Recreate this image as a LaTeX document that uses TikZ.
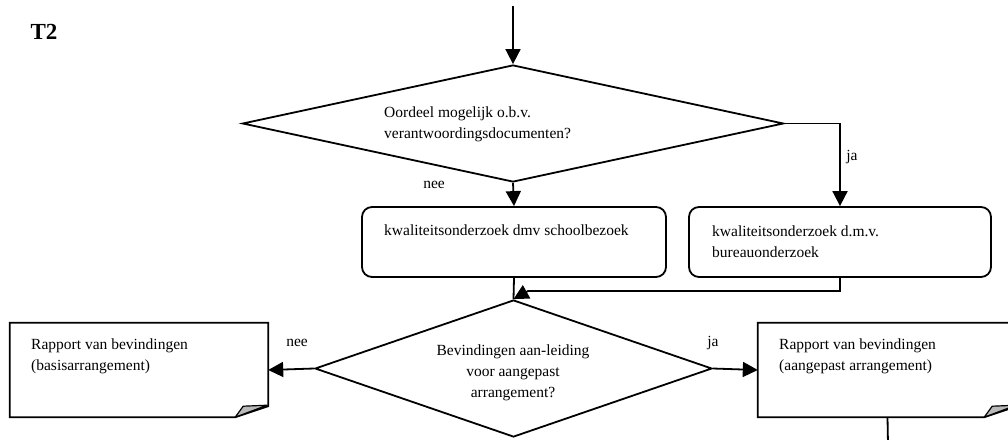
\documentclass[tikz,border=0pt]{standalone}
\usepackage{fontspec}
\setmainfont{Liberation Serif}
\usetikzlibrary{shapes.geometric,arrows.meta}
\begin{document}
\begin{tikzpicture}[x=1pt,y=-1pt,
  line/.style={line width=1.8pt, line join=miter},
  arr/.style={line, -{Triangle[width=15pt,length=15pt]}},
  dec/.style={diamond, draw, line width=1.8pt, inner sep=0pt},
  rbox/.style={draw, line width=1.8pt, rounded corners=10pt, inner sep=0pt},
  docbox/.style={inner sep=0pt},
  fold/.style={fill=gray!55, draw=black, line width=1.2pt, line join=round},
  txt/.style={inner sep=0pt, align=left, font=\fontsize{15.5}{21}\selectfont},
  lbl/.style={inner sep=0pt, font=\fontsize{15.5}{21}\selectfont}]
\clip (0,0) rectangle (1008,439);
\fill[white] (0,0) rectangle (1008,439);

\node[inner sep=0pt, font=\bfseries\fontsize{23}{26}\selectfont] (title) at (44,32) {T2};

% decisions
\node[dec, minimum width=541pt, minimum height=117pt] (d1) at (513,123.5) {};
\node[dec, minimum width=397pt, minimum height=137pt] (d2) at (513.5,368.5) {};

% process boxes
\node[rbox, minimum width=304pt, minimum height=70pt] (b1) at (514,242) {};
\node[rbox, minimum width=302pt, minimum height=70pt] (b2) at (840,242) {};

% documents
\node[docbox, minimum width=258pt, minimum height=94pt] (doc1) at (139,370) {};
\node[docbox, minimum width=259pt, minimum height=94pt] (doc2) at (887.5,370) {};
\foreach \d in {doc1,doc2}{
  \draw[line] (\d.north west) -- (\d.north east) -- ([yshift=11pt]\d.south east)
     -- ([xshift=-33pt]\d.south east) -- (\d.south west) -- cycle;
  \draw[fold] ([xshift=-33pt]\d.south east) -- ([xshift=-25pt,yshift=11pt]\d.south east)
     -- ([xshift=-1pt,yshift=12pt]\d.south east) -- cycle;
}

% texts
\node[txt, anchor=west] (t1) at (384,124) {Oordeel mogelijk o.b.v.\\verantwoordingsdocumenten?};
\node[txt, anchor=west] (t2) at (384,230) {kwaliteitsonderzoek dmv schoolbezoek};
\node[txt, anchor=west] (t3) at (712,242) {kwaliteitsonderzoek d.m.v.\\bureauonderzoek};
\node[txt, align=center] (t4) at (513,373) {Bevindingen aan-leiding\\voor aangepast\\arrangement?};
\node[txt, anchor=west] (t5) at (31,356) {Rapport van bevindingen\\(basisarrangement)};
\node[txt, anchor=west] (t6) at (779,356) {Rapport van bevindingen\\(aangepast arrangement)};

% labels
\node[lbl] (l1) at (434,185) {nee};
\node[lbl] (l2) at (852,157) {ja};
\node[lbl] (l3) at (297,343) {nee};
\node[lbl] (l4) at (713,343) {ja};

% connectors
\coordinate (start) at (513,6);
\draw[arr] (start) -- (d1.north);
\draw[arr] (d1.south) -- (b1.north);
\draw[arr] (d1.east) -| (b2.north);
\draw[line] (b1.south) -- (d2.north);
\coordinate (m) at (528,291);
\draw[arr] (b2.south) |- (m) -- (d2.north);
\draw[arr] (d2.west) -- (doc1.east);
\draw[arr] (d2.east) -- (doc2.west);
\coordinate (end) at (888,445);
\draw[line] (doc2.south) -- (end);
\end{tikzpicture}
\end{document}
